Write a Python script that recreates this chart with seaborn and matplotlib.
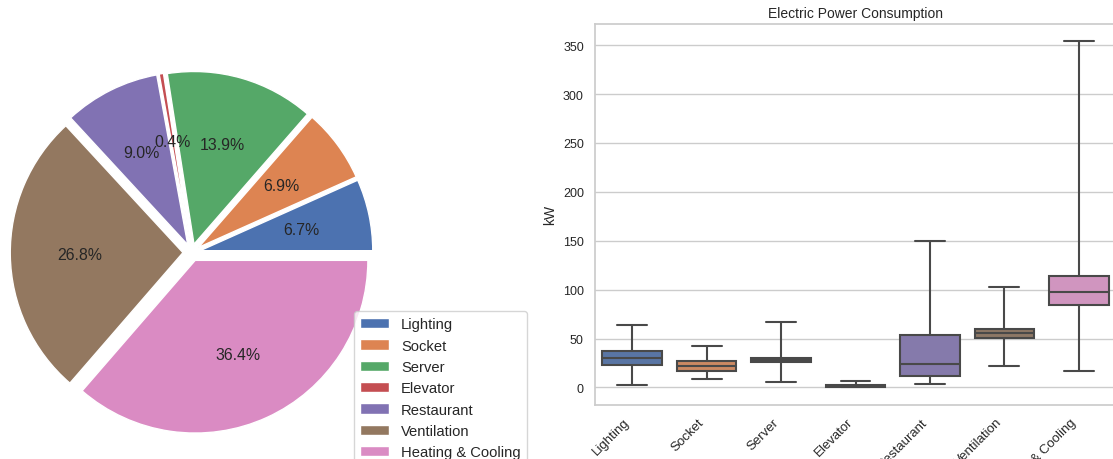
import numpy as np
import pandas as pd
import matplotlib
matplotlib.use("Agg")
import matplotlib.pyplot as plt
import seaborn as sns

# ---- data ----
categories = ["Lighting", "Socket", "Server", "Elevator", "Restaurant",
              "Ventilation", "Heating & Cooling"]
share_pct = [6.7, 6.9, 13.9, 0.4, 9.0, 26.8, 36.4]

# five-number summaries (kW)
kw_min = [2.0, 9.0, 6.0, 0.0, 3.0, 21.5, 17.0]
kw_q1 = [22.5, 17.0, 26.3, 0.3, 11.9, 50.2, 84.4]
kw_med = [30.4, 21.8, 28.3, 1.0, 23.9, 55.4, 97.7]
kw_q3 = [37.5, 26.6, 30.4, 2.0, 54.0, 60.1, 114.2]
kw_max = [63.5, 42.3, 66.5, 7.0, 150.0, 103.0, 354.0]

sns.set_theme(style="whitegrid")
plt.rcParams["font.family"] = ["Liberation Sans", "DejaVu Sans"]

W, H = 1113, 460
fig = plt.figure(figsize=(W / 100, H / 100), dpi=100)

# ---- pie ----
colors = sns.color_palette("deep", len(categories))
side = 431.75
ax_pie = fig.add_axes([(191.6 - side / 2) / W, (H - (253.5 + side / 2)) / H,
                       side / W, side / H])
wedges, texts, autotexts = ax_pie.pie(
    share_pct, explode=[0.05] * len(share_pct), colors=colors,
    autopct="%1.1f%%", pctdistance=0.6,
    textprops={"fontsize": 11.4, "color": "0.15"})
ax_pie.set_xlim(-1.25, 1.25)
ax_pie.set_ylim(-1.25, 1.25)
ax_pie.legend(wedges, categories, loc="upper left",
              bbox_to_anchor=(354 / W, 1 - 312.3 / H),
              bbox_transform=fig.transFigure, borderaxespad=0,
              fontsize=10.6)

# ---- box plot ----
rows = []
for c, a, b, m, d, e in zip(categories, kw_min, kw_q1, kw_med, kw_q3, kw_max):
    for v in (a, b, m, d, e):
        rows.append({"category": c, "kW": v})
df = pd.DataFrame(rows)

ax = fig.add_axes([595 / W, (H - 405.7) / H, 521 / W, 380.7 / H])
sns.boxplot(data=df, x="category", y="kW", hue="category",
            palette="deep", whis=(0, 100), width=0.8, linewidth=1.5,
            legend=False, ax=ax)
ax.set_title("Electric Power Consumption", fontsize=10, pad=5)
ax.set_xlabel("")
ax.set_ylabel("kW", fontsize=10, labelpad=4.5)
ax.tick_params(axis="y", labelsize=9, pad=8, size=0)
ax.tick_params(axis="x", labelsize=9.5, pad=8, size=0)
plt.setp(ax.get_xticklabels(), rotation=45, ha="right")

fig.savefig("out.png", dpi=100)
